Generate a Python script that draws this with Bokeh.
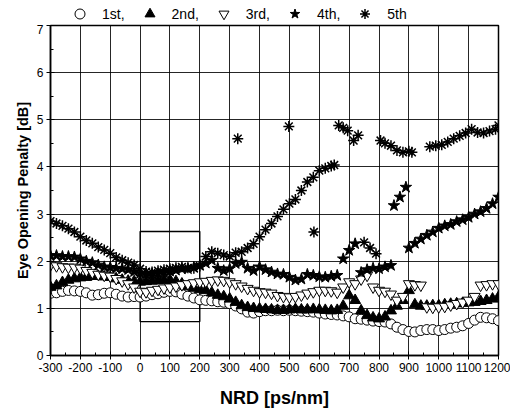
from bokeh.plotting import figure
from bokeh.models import Legend, LegendItem, FixedTicker, Range1d
from bokeh.layouts import column
from bokeh.embed import file_html
from bokeh.resources import INLINE

# ---------------- data ----------------
x1 = list(range(-300, 1201, 20))
y1 = [1.32, 1.33, 1.36, 1.38, 1.37, 1.36, 1.33, 1.28, 1.29, 1.32, 1.33, 1.30, 1.26, 1.24, 1.25, 1.24,
      1.26, 1.29, 1.31, 1.34, 1.36, 1.35, 1.30, 1.26, 1.22, 1.18, 1.17, 1.16, 1.14, 1.13, 1.10, 1.05,
      0.99, 0.92, 0.90, 0.93, 0.95, 0.95, 0.96, 0.95, 0.96, 0.95, 0.94, 0.93, 0.92, 0.90, 0.88, 0.87,
      0.86, 0.84, 0.82, 0.78, 0.77, 0.75, 0.73, 0.72, 0.71, 0.67, 0.60, 0.55, 0.51, 0.50, 0.53, 0.55,
      0.55, 0.53, 0.55, 0.58, 0.60, 0.63, 0.68, 0.75, 0.81, 0.80, 0.78, 0.74]

x2 = list(range(-300, 1201, 20))
y2 = [1.45, 1.48, 1.55, 1.60, 1.63, 1.65, 1.66, 1.68, 1.68, 1.67, 1.66, 1.63, 1.60, 1.58, 1.57, 1.56,
      1.57, 1.58, 1.59, 1.60, 1.60, 1.57, 1.52, 1.46, 1.43, 1.40, 1.38, 1.33, 1.28, 1.25, 1.20, 1.13,
      1.06, 1.02, 1.00, 0.99, 0.98, 0.97, 0.96, 0.96, 0.97, 0.98, 0.97, 0.97, 0.98, 0.97, 0.96, 0.95,
      0.96, 1.05, 1.27, 1.17, 0.95, 0.85, 0.80, 0.78, 0.82, 0.95, 1.05, 1.17, 1.38, 1.08, 1.05, 1.05,
      1.06, 1.06, 1.08, 1.09, 1.10, 1.11, 1.12, 1.13, 1.15, 1.17, 1.20, 1.24]

x3 = list(range(-300, 1201, 20))
y3 = [1.92, 1.90, 1.88, 1.87, 1.87, 1.85, 1.80, 1.76, 1.72, 1.70, 1.68, 1.63, 1.58, 1.52, 1.45, 1.36,
      1.35, 1.38, 1.40, 1.43, 1.45, 1.47, 1.50, 1.52, 1.54, 1.56, 1.57, 1.59, 1.60, 1.59, 1.56, 1.52,
      1.47, 1.42, 1.38, 1.35, 1.34, 1.32, 1.27, 1.25, 1.24, 1.25, 1.28, 1.32, 1.35, 1.38, 1.38, 1.37,
      1.34, 1.45, 1.56, 1.52, 1.62, 1.70, 1.45, 1.38, 1.36, 1.30, 1.17, 1.25, 1.52, 1.50, 1.49, 1.03,
      1.02, 1.03, 1.04, 1.07, 1.10, 1.13, 1.17, 1.25, 1.49, 1.50, 1.52, 1.52]

x4 = list(range(-300, 841, 20)) + [850, 870, 890] + list(range(900, 1201, 20))
y4 = [2.12, 2.12, 2.10, 2.10, 2.09, 2.05, 2.00, 1.97, 1.92, 1.88, 1.87, 1.85, 1.84, 1.82, 1.78, 1.74,
      1.73, 1.73, 1.74, 1.76, 1.79, 1.81, 1.84, 1.84, 1.87, 1.91, 1.96, 2.02, 1.85, 1.80, 1.84, 1.95,
      1.98, 1.85, 1.80, 1.88, 1.82, 1.77, 1.73, 1.72, 1.66, 1.60, 1.62, 1.72, 1.70, 1.67, 1.66, 1.68,
      1.70, 2.05, 2.23, 2.37, 1.76, 1.82, 1.85, 1.84, 1.88, 1.91,
      3.18, 3.36, 3.57,
      2.28, 2.38, 2.47, 2.55, 2.62, 2.70, 2.75, 2.78, 2.84, 2.88, 2.93, 3.00, 3.05, 3.12, 3.22, 3.36]

x5 = (list(range(-300, 641, 20)) + [650, 327, 498, 582]
      + [665, 680, 695, 715, 730] + [750, 770, 790]
      + [805, 820, 840, 860, 880, 900, 910]
      + [970, 990, 1010, 1030, 1050, 1070, 1090, 1110, 1130, 1150, 1170, 1190, 1200])
y5 = ([2.85, 2.80, 2.75, 2.69, 2.62, 2.52, 2.44, 2.38, 2.30, 2.24, 2.17, 2.08, 2.02, 1.97, 1.92, 1.84,
       1.78, 1.77, 1.80, 1.82, 1.84, 1.86, 1.88, 1.86, 1.85, 1.90, 2.10, 2.20, 2.17, 2.13, 2.10, 2.18,
       2.20, 2.28, 2.37, 2.52, 2.67, 2.80, 2.95, 3.10, 3.22, 3.31, 3.50, 3.68, 3.78, 3.92, 3.97, 4.02]
      + [4.04, 4.60, 4.86, 2.62]
      + [4.88, 4.83, 4.77, 4.56, 4.67] + [2.40, 2.28, 2.16]
      + [4.56, 4.50, 4.45, 4.35, 4.31, 4.33, 4.31]
      + [4.43, 4.45, 4.47, 4.53, 4.60, 4.66, 4.72, 4.80, 4.73, 4.72, 4.76, 4.80, 4.88])

box_x = [0, 200]
box_y = [0.72, 2.63]

labels = ["1st,", "2nd,", "3rd,", "4th,", "5th"]
x_ticks = list(range(-300, 1201, 100))
y_ticks = list(range(0, 8))

FONT = "Liberation Sans"

# marker styles per series
styles = [
    dict(marker="circle", size=10, fill_color="white", line_color="black", line_width=1),
    dict(marker="triangle", size=11, fill_color="black", line_color="black"),
    dict(marker="inverted_triangle", size=11, fill_color="white", line_color="black", line_width=1),
    dict(marker="star", size=12, fill_color="black", line_color="black"),
    dict(marker="asterisk", size=11, line_color="black", line_width=1.5),
]
xs_all = [x1, x2, x3, x4, x5]
ys_all = [y1, y2, y3, y4, y5]

# ---------------- main figure ----------------
p = figure(width=510, height=388, output_backend="svg", toolbar_location=None,
           x_range=Range1d(-300, 1200), y_range=Range1d(0, 7),
           min_border_left=50, min_border_right=12, min_border_top=1, min_border_bottom=57)

p.outline_line_color = "black"
p.outline_line_width = 1.5

for ax in (p.xaxis, p.yaxis):
    ax.axis_line_color = "black"
    ax.axis_line_width = 1.5
    ax.major_tick_in = 4
    ax.major_tick_out = 4
    ax.minor_tick_in = 3
    ax.minor_tick_out = 0
    ax.major_tick_line_color = "black"
    ax.minor_tick_line_color = "black"
    ax.major_label_text_font = FONT
    ax.major_label_text_font_size = "12px"
    ax.major_label_text_color = "black"
    ax.axis_label_text_font = FONT
    ax.axis_label_text_font_style = "bold"
    ax.axis_label_text_color = "black"

p.xaxis.ticker = FixedTicker(ticks=x_ticks, minor_ticks=list(range(-250, 1200, 100)))
p.yaxis.ticker = FixedTicker(ticks=y_ticks, minor_ticks=[v + 0.5 for v in range(0, 7)])
p.xaxis.major_label_overrides = {t: str(t) for t in x_ticks}
p.yaxis.major_label_overrides = {t: str(t) for t in y_ticks}
p.xaxis.axis_label = "NRD [ps/nm]"
p.yaxis.axis_label = "Eye Opening Penalty [dB]"
p.xaxis.axis_label_text_font_size = "18px"
p.yaxis.axis_label_text_font_size = "14.5px"
p.xaxis.major_label_standoff = 3
p.yaxis.major_label_standoff = 3
p.xaxis.axis_label_standoff = 13
p.yaxis.axis_label_standoff = 3

p.xgrid.grid_line_color = "black"
p.ygrid.grid_line_color = "black"
p.xgrid.grid_line_alpha = 0.85
p.ygrid.grid_line_alpha = 0.85
p.xgrid.grid_line_width = 1
p.ygrid.grid_line_width = 1

# box
p.quad(left=[box_x[0]], right=[box_x[1]], bottom=[box_y[0]], top=[box_y[1]],
       fill_color=None, line_color="black", line_width=1.3)

for xs, ys, st in zip(xs_all, ys_all, styles):
    p.scatter(xs, ys, **st)

# ---------------- legend strip ----------------
# legend-only figure; its ranges exclude the data so only the legend shows
lf = figure(width=510, height=24, output_backend="svg", toolbar_location=None,
            x_range=Range1d(10000, 10001), y_range=Range1d(10000, 10001),
            x_axis_location=None, y_axis_location=None,
            min_border_left=0, min_border_right=0, min_border_top=0, min_border_bottom=0)
lf.outline_line_color = None
lf.xgrid.visible = False
lf.ygrid.visible = False
rs = [lf.scatter(xs[:1], ys[:1], **st) for xs, ys, st in zip(xs_all, ys_all, styles)]
legend = Legend(items=[LegendItem(label=labels[i], renderers=[r]) for i, r in enumerate(rs)],
                orientation="horizontal", location=(17, -2),
                label_text_font=FONT, label_text_font_size="14px", label_text_color="black",
                border_line_color=None, background_fill_alpha=0,
                padding=0, margin=0, spacing=12, label_standoff=10,
                glyph_width=25, glyph_height=25, label_height=14)
lf.add_layout(legend, "center")

layout = column(lf, p, spacing=0)
open("out.html", "w").write(file_html(layout, INLINE))
